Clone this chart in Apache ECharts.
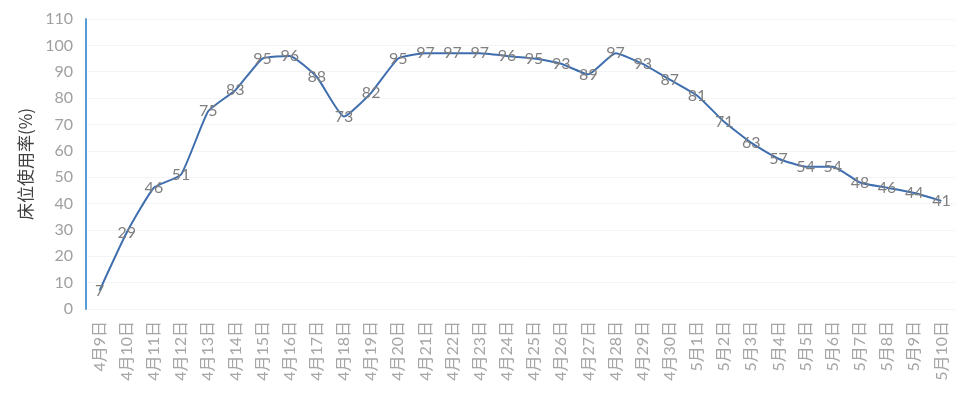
<!DOCTYPE html>
<html><head><meta charset="utf-8">
<script src="https://cdn.jsdelivr.net/npm/echarts@6/dist/echarts.min.js"></script>
<style>html,body{margin:0;padding:0;background:#fff}#c{width:978px;height:395px}</style>
</head><body><div id="c"></div>
<script>
const categories = ['4月9日','4月10日','4月11日','4月12日','4月13日','4月14日','4月15日','4月16日','4月17日','4月18日','4月19日','4月20日','4月21日','4月22日','4月23日','4月24日','4月25日','4月26日','4月27日','4月28日','4月29日','4月30日','5月1日','5月2日','5月3日','5月4日','5月5日','5月6日','5月7日','5月8日','5月9日','5月10日'];
const usageRate = [7,29,46,51,75,83,95,96,88,73,82,95,97,97,97,96,95,93,89,97,93,87,81,71,63,57,54,54,48,46,44,41];
const yTicks = {min:0, max:110, interval:10};

const chart = echarts.init(document.getElementById('c'));
chart.setOption({
  animation:false,
  grid:{left:86, right:23, top:19, bottom:86},
  xAxis:{
    type:'category', data:categories, boundaryGap:true,
    axisLine:{show:false}, axisTick:{show:false},
    axisLabel:{rotate:90, interval:0, color:'#a6a6a6', fontSize:16, fontFamily:'Lato, "Noto Sans CJK SC", sans-serif', margin:12}
  },
  yAxis:{
    type:'value', min:yTicks.min, max:yTicks.max, interval:yTicks.interval,
    name:'床位使用率(%)', nameLocation:'middle', nameGap:42, nameRotate:90,
    nameTextStyle:{color:'#404040', fontSize:17, fontFamily:'"Noto Sans CJK SC", sans-serif'},
    axisLine:{show:true, lineStyle:{color:'#5b9bd5', width:2}},
    axisTick:{show:false},
    axisLabel:{color:'#a0a0a0', fontSize:16, fontFamily:'Lato, sans-serif', margin:13},
    splitLine:{show:true, lineStyle:{color:'#f4f4f4'}}
  },
  series:[{
    type:'line', data:usageRate, smooth:0.15, symbol:'circle', symbolSize:2, showSymbol:true,
    itemStyle:{color:'rgba(0,0,0,0)', borderWidth:0},
    lineStyle:{color:'#3f6eae', width:2},
    label:{show:true, position:'inside', color:'#7f7f7f', fontSize:16, fontFamily:'Lato, sans-serif'},
    labelLayout:{hideOverlap:false}
  }]
});
</script></body></html>
